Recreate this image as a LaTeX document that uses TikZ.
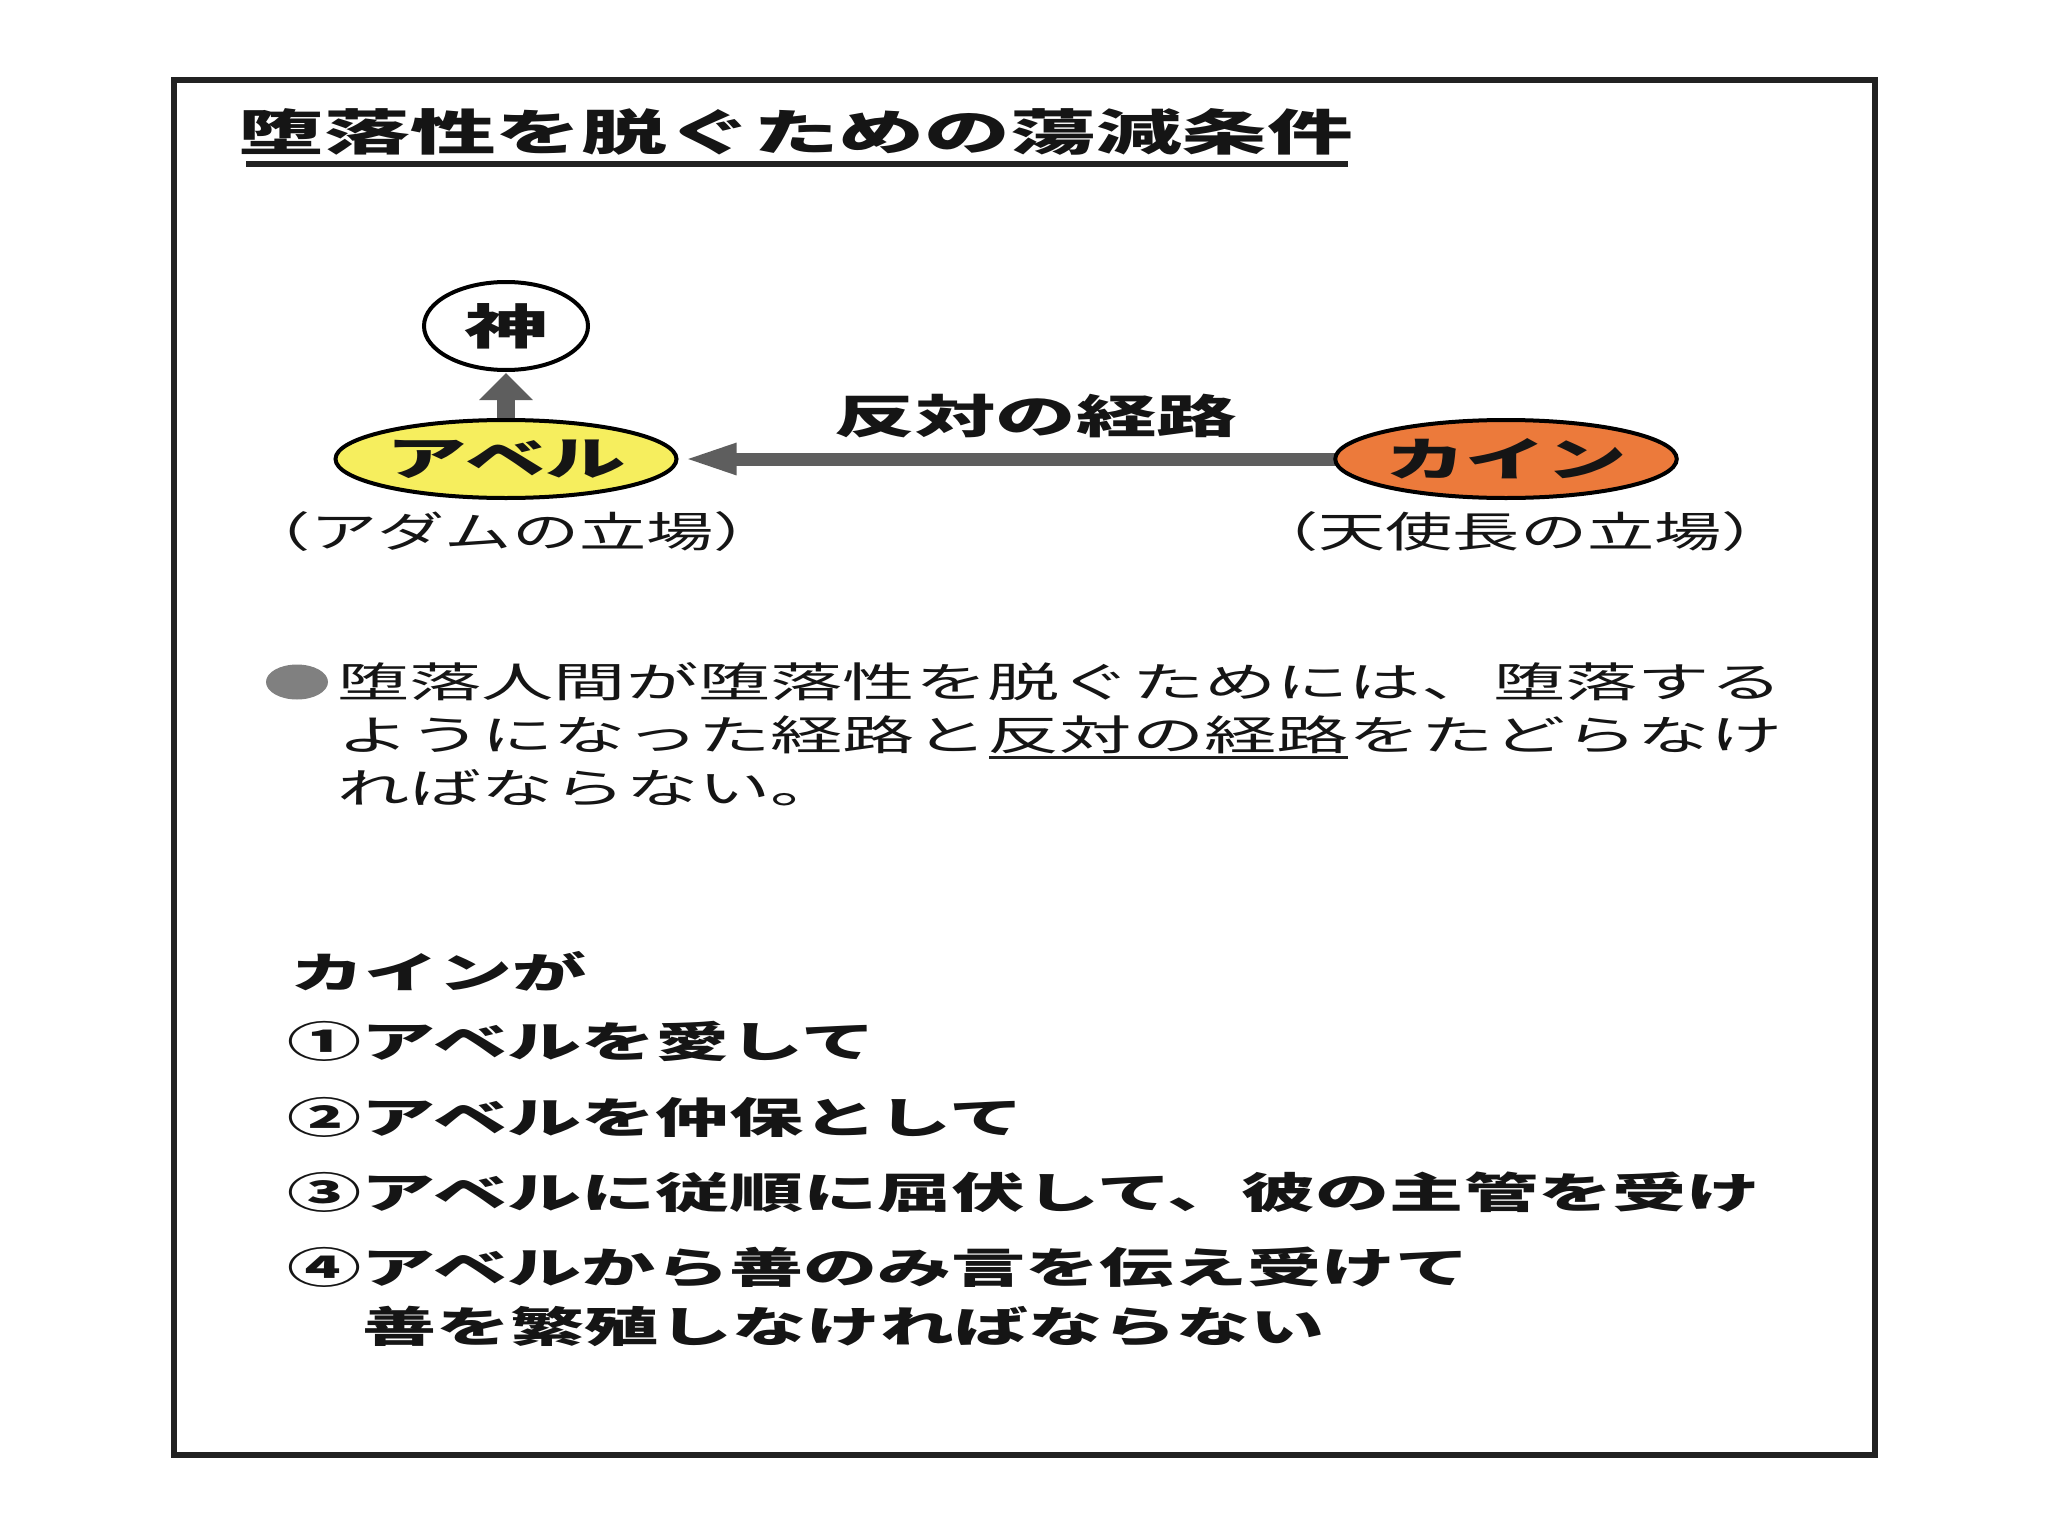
\documentclass[tikz,border=0pt]{standalone}
\usepackage{fontspec}
\usepackage{graphicx}
\usetikzlibrary{shapes.geometric,arrows.meta}
\newfontfamily\jp{Noto Sans CJK JP}
\definecolor{abelyellow}{HTML}{F6EE5E}
\definecolor{kainorange}{HTML}{EC7A3B}
\definecolor{arrowgray}{HTML}{5E5E5E}
\definecolor{bulletgray}{HTML}{808080}
\definecolor{framegray}{HTML}{222222}
\definecolor{inkblack}{HTML}{151515}
\newcommand\sq[1]{\scalebox{1.75}[1]{#1}}
\newcommand\sqp[1]{\scalebox{1.6}[1]{#1}}
\newcommand\fs[1]{\fontsize{#1}{#1}\selectfont}
\pgfdeclarelayer{bg}
\pgfsetlayers{bg,main}
\begin{document}
\begin{tikzpicture}[x=1pt,y=-1pt,
  txt/.style={inner sep=0pt, outer sep=0pt, text=inkblack},
  lefttxt/.style={txt, anchor=west},
  ell/.style={ellipse, draw=black, line width=4pt, inner sep=0pt, text=inkblack, font=\jp\bfseries},
  bodyfont/.style={font=\jp\fs{41.3}},
  listfont/.style={font=\jp\bfseries\fs{42.3}},
  parenfont/.style={font=\jp\fs{42}},
  grayarrow/.style={draw=arrowgray, line cap=butt}
]
\useasboundingbox (0,0) rectangle (2048,1536);

% frame
\draw[framegray, line width=6pt] (174,80) rectangle (1875,1455);

% title
\node[txt, font=\jp\bfseries\fs{49}] (title) at (796,132) {\sq{堕落性を脱ぐための蕩減条件}};
\draw[framegray, line width=5pt] (246,164) -- (1348,164);

% diagram nodes
\node[ell, fill=white, minimum width=164pt, minimum height=88pt] (god) at (506,326) {\fs{48}\sq{神}};
\node[ell, fill=abelyellow, minimum width=341pt, minimum height=78pt] (abel) at (506,459) {\fs{46}\sq{アベル}};
\node[ell, fill=kainorange, minimum width=341pt, minimum height=78pt] (kain) at (1506,459) {\fs{46}\sq{カイン}};

\node[txt, font=\jp\bfseries\fs{46}] (route) at (1036,416) {\sq{反対の経路}};
\node[txt, parenfont] (adam) at (512,532) {\sqp{（アダムの立場）}};
\node[txt, parenfont] (angel) at (1520,532) {\sqp{（天使長の立場）}};

% connectors (behind the ellipses)
\begin{pgfonlayer}{bg}
\fill[white] (0,0) rectangle (2048,1536);
\draw[grayarrow, line width=13pt, -{Triangle[length=54pt,width=28pt]}, shorten >=4pt, shorten <=-6pt] (kain.west) -- (abel.east);
\draw[grayarrow, line width=18pt, -{Triangle[length=27pt,width=52pt]}, shorten >=1pt, shorten <=-6pt] (abel.north) -- (god.south);
\end{pgfonlayer}

% bullet paragraph
\node[ellipse, fill=bulletgray, minimum width=62pt, minimum height=35pt, inner sep=0pt] (bullet) at (297,682) {};
\node[lefttxt, bodyfont] (p1) at (337,682) {\sq{堕落人間が堕落性を脱ぐためには、堕落する}};
\node[lefttxt, bodyfont] (p2) at (337,735) {\sq{ようになった経路と反対の経路をたどらなけ}};
\node[lefttxt, bodyfont] (p3) at (337,788) {\sq{ればならない。}};
\draw[framegray, line width=3pt] (989,757) -- (1348,757);

% list
\node[lefttxt, listfont] (l0) at (290,971) {\sq{カインが}};
\node[lefttxt, listfont] (l1) at (287,1041) {\sq{①アベルを愛して}};
\node[lefttxt, listfont] (l2) at (287,1117) {\sq{②アベルを仲保として}};
\node[lefttxt, listfont] (l3) at (287,1192) {\sq{③アベルに従順に屈伏して、彼の主管を受け}};
\node[lefttxt, listfont] (l4) at (287,1267) {\sq{④アベルから善のみ言を伝え受けて}};
\node[lefttxt, listfont] (l5) at (362,1326) {\sq{善を繁殖しなければならない}};
\end{tikzpicture}
\end{document}
